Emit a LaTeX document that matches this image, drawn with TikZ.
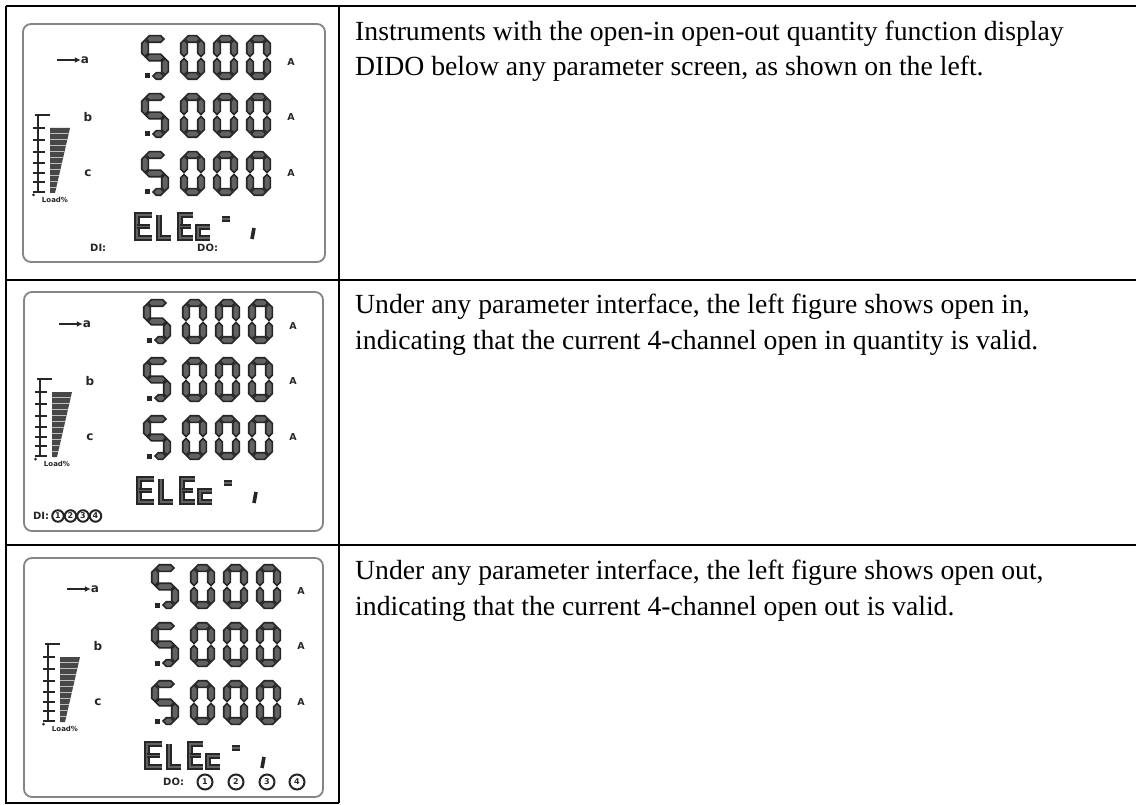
\documentclass[tikz,border=0pt]{standalone}
\usepackage{fontspec}
\setmainfont{Liberation Serif}
\newfontfamily\lcdsans{DejaVu Sans}
\usetikzlibrary{arrows.meta}

\definecolor{lcdink}{HTML}{262626}
\definecolor{lcdgrey}{HTML}{626262}
\definecolor{framegrey}{HTML}{858585}

% half thickness and end gap of one LCD segment
\newcommand\segh{3.3}
\newcommand\segg{1}
% horizontal segment: x1, x2, y
\newcommand\hseg[3]{\filldraw[seg] (#1+\segg,#3) -- (#1+\segg+\segh,#3-\segh) -- (#2-\segg-\segh,#3-\segh) -- (#2-\segg,#3) -- (#2-\segg-\segh,#3+\segh) -- (#1+\segg+\segh,#3+\segh) -- cycle;}
% vertical segment: x, y1, y2
\newcommand\vseg[3]{\filldraw[seg] (#1,#2+\segg) -- (#1+\segh,#2+\segg+\segh) -- (#1+\segh,#3-\segg-\segh) -- (#1,#3-\segg) -- (#1-\segh,#3-\segg-\segh) -- (#1-\segh,#2+\segg+\segh) -- cycle;}
% seven-segment glyphs, top-left corner of the centre lines
\newcommand\dzero[2]{\hseg{#1}{#1+17}{#2}\hseg{#1}{#1+17}{#2+37}\vseg{#1}{#2}{#2+18.5}\vseg{#1}{#2+18.5}{#2+37}\vseg{#1+17}{#2}{#2+18.5}\vseg{#1+17}{#2+18.5}{#2+37}}
\newcommand\dfive[2]{\hseg{#1}{#1+20}{#2}\vseg{#1}{#2}{#2+18.5}\hseg{#1}{#1+20}{#2+18.5}\vseg{#1+20}{#2+18.5}{#2+37}\hseg{#1+7}{#1+20}{#2+37}\fill[lcdink] (#1,#2+34.5) rectangle (#1+5,#2+39.5);}
\newcommand\digitrow[1]{\dfive{122}{#1+3}\dzero{161}{#1+3}\dzero{194}{#1+3}\dzero{227}{#1+3}}

% common face of the meter display: #1 name prefix, #2/#3 offset
\newcommand\lcdface[3]{%
\begin{scope}[shift={(#2,#3)}]
  \digitrow{12}\digitrow{70}\digitrow{128}
  \node[unit] (#1-u1) at (268,38) {A};
  \node[unit] (#1-u2) at (268,93) {A};
  \node[unit] (#1-u3) at (268,149) {A};
  \coordinate (#1-as) at (34,36);
  \node[phase] (#1-pa) at (62,36) {a};
  \draw[phasearrow] (#1-as) -- (#1-pa.west);
  \node[phase] (#1-pb) at (65,93) {b};
  \node[phase] (#1-pc) at (65,149) {c};
  % load bar graph
  \draw[bar] (15,91) -- (15,169);
  \draw[bar] (12,91) -- (27,91);
  \foreach \ty in {104,116,128,139,149,158,168} \draw[tick] (10,\ty) -- (22,\ty);
  \fill[lcdink] (10.5,171) circle (1.5);
  \begin{scope}
    \clip (27,104) -- (47,104) -- (32,169) -- (27,169) -- cycle;
    \fill[lcdink!85!white] (26,100) rectangle (48,170);
    \foreach \ty in {109,115,...,167} \draw[white!70!lcdink, line width=0.6pt] (26,\ty) -- (48,\ty);
  \end{scope}
  \node[loadtxt] (#1-ld) at (32,176) {Load\%};
  % ELEc -1 line
  \draw[elec] (129,191) -- (114,191) -- (114,214) -- (129,214);
  \draw[elec] (114,202.5) -- (127,202.5);
  \draw[elec] (136,191) -- (136,214) -- (148,214);
  \draw[elec] (170,191) -- (157,191) -- (157,214) -- (170,214);
  \draw[elec] (157,202.5) -- (168,202.5);
  \draw[elec] (187,203) -- (175,203) -- (175,214) -- (187,214);
  \draw[elec] (199,195) -- (207,195);
  \draw[lcdink, line width=3.6pt] (231,204) -- (229,215);
\end{scope}}

\begin{document}
\begin{tikzpicture}[x=1pt, y=-1pt,
  grid/.style={draw=black, line width=1.1pt},
  panel/.style={draw=framegrey, line width=1.8pt, rounded corners=8pt},
  seg/.style={fill=lcdgrey, draw=lcdink, line width=1.6pt, line join=miter},
  elec/.style={draw=lcdink, double=lcdgrey, double distance=1.8pt, line width=1.7pt, line join=miter},
  unit/.style={font=\lcdsans\bfseries\fontsize{9.5}{9.5}\selectfont, text=lcdink, inner sep=0pt},
  phase/.style={font=\lcdsans\bfseries\fontsize{12}{12}\selectfont, text=lcdink, inner sep=0pt},
  phasearrow/.style={draw=lcdink, line width=1.8pt, -{Latex[length=6pt,width=6pt]}},
  bar/.style={draw=lcdink, line width=1.8pt},
  tick/.style={draw=lcdink, line width=2.6pt},
  loadtxt/.style={font=\lcdsans\bfseries\fontsize{7}{7}\selectfont, text=lcdink, inner sep=0pt},
  dido/.style={font=\lcdsans\bfseries\fontsize{10}{10}\selectfont, text=lcdink, inner sep=0pt, anchor=west},
  chan/.style={circle, draw=lcdink, line width=2pt, inner sep=0pt, text=lcdink,
    font=\lcdsans\bfseries\fontsize{8}{8}\selectfont},
  desc/.style={font=\fontsize{27.7}{35}\selectfont, anchor=base west, inner sep=0pt}]

\useasboundingbox (0,0) rectangle (1136,805);
\fill[white] (0,0) rectangle (1136,805);

% table rules
\draw[grid] (6,6) -- (1136,6);
\draw[grid] (6,280) -- (1136,280);
\draw[grid] (6,545) -- (1136,545);
\draw[grid] (6,6) -- (6,803) -- (339,803);
\draw[grid] (339,6) -- (339,803);

% display with empty DI / DO fields
\begin{scope}[shift={(23,24)}]
  \draw[panel] (0,0) rectangle (302,238);
  \lcdface{pA}{0}{0}
  \node[dido] (pA-di) at (67,224) {DI:};
  \node[dido] (pA-do) at (174,224) {DO:};
\end{scope}

% display with the four inputs lit
\begin{scope}[shift={(24,292)}]
  \draw[panel] (0,0) rectangle (299,239);
  \lcdface{pB}{1}{-4}
  \node[dido] (pB-di) at (9,224) {DI:};
  \node[chan, minimum size=11.5pt] (pB-c1) at (34,224) {1};
  \node[chan, minimum size=11.5pt] (pB-c2) at (46.5,224) {2};
  \node[chan, minimum size=11.5pt] (pB-c3) at (59,224) {3};
  \node[chan, minimum size=11.5pt] (pB-c4) at (71.5,224) {4};
\end{scope}

% display with the four outputs lit
\begin{scope}[shift={(24,558)}]
  \draw[panel] (0,0) rectangle (299,239);
  \lcdface{pC}{9}{-5}
  \node[dido] (pC-do) at (139,224) {DO:};
  \node[chan, minimum size=15pt] (pC-c1) at (181,224) {1};
  \node[chan, minimum size=15pt] (pC-c2) at (212,224) {2};
  \node[chan, minimum size=15pt] (pC-c3) at (243,224) {3};
  \node[chan, minimum size=15pt] (pC-c4) at (273,224) {4};
\end{scope}

% descriptions
\node[desc] (t1a) at (355,40.5) {Instruments with the open-in open-out quantity function display};
\node[desc] (t1b) at (355,75.5) {DIDO below any parameter screen, as shown on the left.};
\node[desc] (t2a) at (355,313) {Under any parameter interface, the left figure shows open in,};
\node[desc] (t2b) at (355,349) {indicating that the current 4-channel open in quantity is valid.};
\node[desc] (t3a) at (355,579) {Under any parameter interface, the left figure shows open out,};
\node[desc] (t3b) at (355,615) {indicating that the current 4-channel open out is valid.};
\end{tikzpicture}
\end{document}
